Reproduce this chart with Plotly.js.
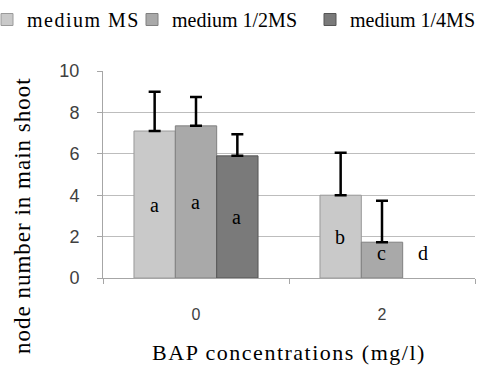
<!DOCTYPE html>
<html>
<head>
<meta charset="utf-8">
<script src="https://cdn.plot.ly/plotly-3.0.1.min.js"></script>
<style>
html,body{margin:0;padding:0;background:#fff;}
#chart{width:496px;height:365px;}
.legendtext{letter-spacing:1.5px;}
.xtitle{letter-spacing:1.5px;}
.annotation-text{letter-spacing:1px;}
</style>
</head>
<body>
<div id="chart"></div>
<script>
var categories = ['0', '2'];
var seriesNames = ['medium MS', 'medium 1/2MS', 'medium 1/4MS'];
var msValues = [7.1, 4.0];
var halfMsValues = [7.35, 1.73];
var quarterMsValues = [5.9, 0];
var msErrors = [1.9, 2.05];
var halfMsErrors = [1.4, 2.0];
var quarterMsErrors = [1.05, 0];
var msLetters = ['a', 'b'];
var halfMsLetters = ['a', 'c'];
var quarterMsLetters = ['a', 'd'];

var values = [msValues, halfMsValues, quarterMsValues];
var errors = [msErrors, halfMsErrors, quarterMsErrors];
var letters = [msLetters, halfMsLetters, quarterMsLetters];
var fills = ['#c9c9c9', '#a9a9a9', '#7a7a7a'];
var edges = ['#9a9a9a', '#808080', '#555555'];
var legendIds = ['legend', 'legend2', 'legend3'];
var serif = "'Liberation Serif', 'Times New Roman', serif";
var sans = "'Liberation Sans', Arial, sans-serif";

var traces = values.map(function (vals, i) {
  return {
    type: 'bar',
    name: seriesNames[i],
    legend: legendIds[i],
    x: categories,
    y: vals,
    marker: {color: fills[i], line: {color: edges[i], width: vals.map(function (v) { return v > 0 ? 1 : 0; })}},
    error_y: {
      type: 'data', symmetric: false,
      array: errors[i].map(function (e) { return e > 0 ? e : NaN; }),
      arrayminus: errors[i].map(function (e) { return e > 0 ? 0 : NaN; }),
      visible: true, color: '#000', thickness: 2.5, width: 6
    },
    hoverinfo: 'none'
  };
});

var barW = 0.667 / 3;
var annotations = [];
letters.forEach(function (ls, i) {
  ls.forEach(function (t, j) {
    var v = values[i][j];
    annotations.push({
      x: j + (i - 1) * barW, y: Math.max(v / 2, 1.2),
      xref: 'x', yref: 'y', text: t, showarrow: false,
      font: {family: serif, size: 20, color: '#000'}
    });
  });
});
annotations.push({
  x: (22 - 103) / 372, y: (278 - 216) / 207, xref: 'x domain', yref: 'y domain',
  text: 'node number in main shoot',
  textangle: -90, showarrow: false, xanchor: 'center', yanchor: 'middle',
  font: {family: serif, size: 23, color: '#000'}
});

function legendAt(px) {
  return {
    orientation: 'h', x: (px - 103) / 372, y: 1, xref: 'paper', yref: 'container',
    xanchor: 'left', yanchor: 'top', bgcolor: 'rgba(0,0,0,0)',
    font: {family: serif, size: 20, color: '#000'},
    itemwidth: 30
  };
}

var layout = {
  width: 496, height: 365,
  margin: {l: 103, r: 21, t: 71, b: 87, autoexpand: false},
  paper_bgcolor: '#fff', plot_bgcolor: '#fff',
  barmode: 'group', bargap: 0.333, bargroupgap: 0,
  showlegend: true,
  legend: legendAt(-13),
  legend2: legendAt(132),
  legend3: legendAt(310),
  xaxis: {
    type: 'category',
    showline: true, linecolor: '#a6a6a6', linewidth: 1,
    ticks: 'outside', tickson: 'boundaries', ticklen: 5, tickcolor: '#a6a6a6',
    tickfont: {family: sans, size: 16, color: '#404040'},
    ticklabelstandoff: 22,
    showgrid: false,
    title: {text: 'BAP concentrations (mg/l)', font: {family: serif, size: 22, color: '#000'}, standoff: 25}
  },
  yaxis: {
    range: [0, 10], dtick: 2,
    showline: true, linecolor: '#a6a6a6', linewidth: 1,
    ticks: 'outside', ticklen: 5, tickcolor: '#a6a6a6',
    gridcolor: '#bdbdbd', gridwidth: 1, zeroline: false,
    tickfont: {family: sans, size: 18, color: '#404040'},
    ticklabelstandoff: 14
  },
  annotations: annotations
};

Plotly.newPlot('chart', traces, layout, {displayModeBar: false, staticPlot: true});
</script>
</body>
</html>
